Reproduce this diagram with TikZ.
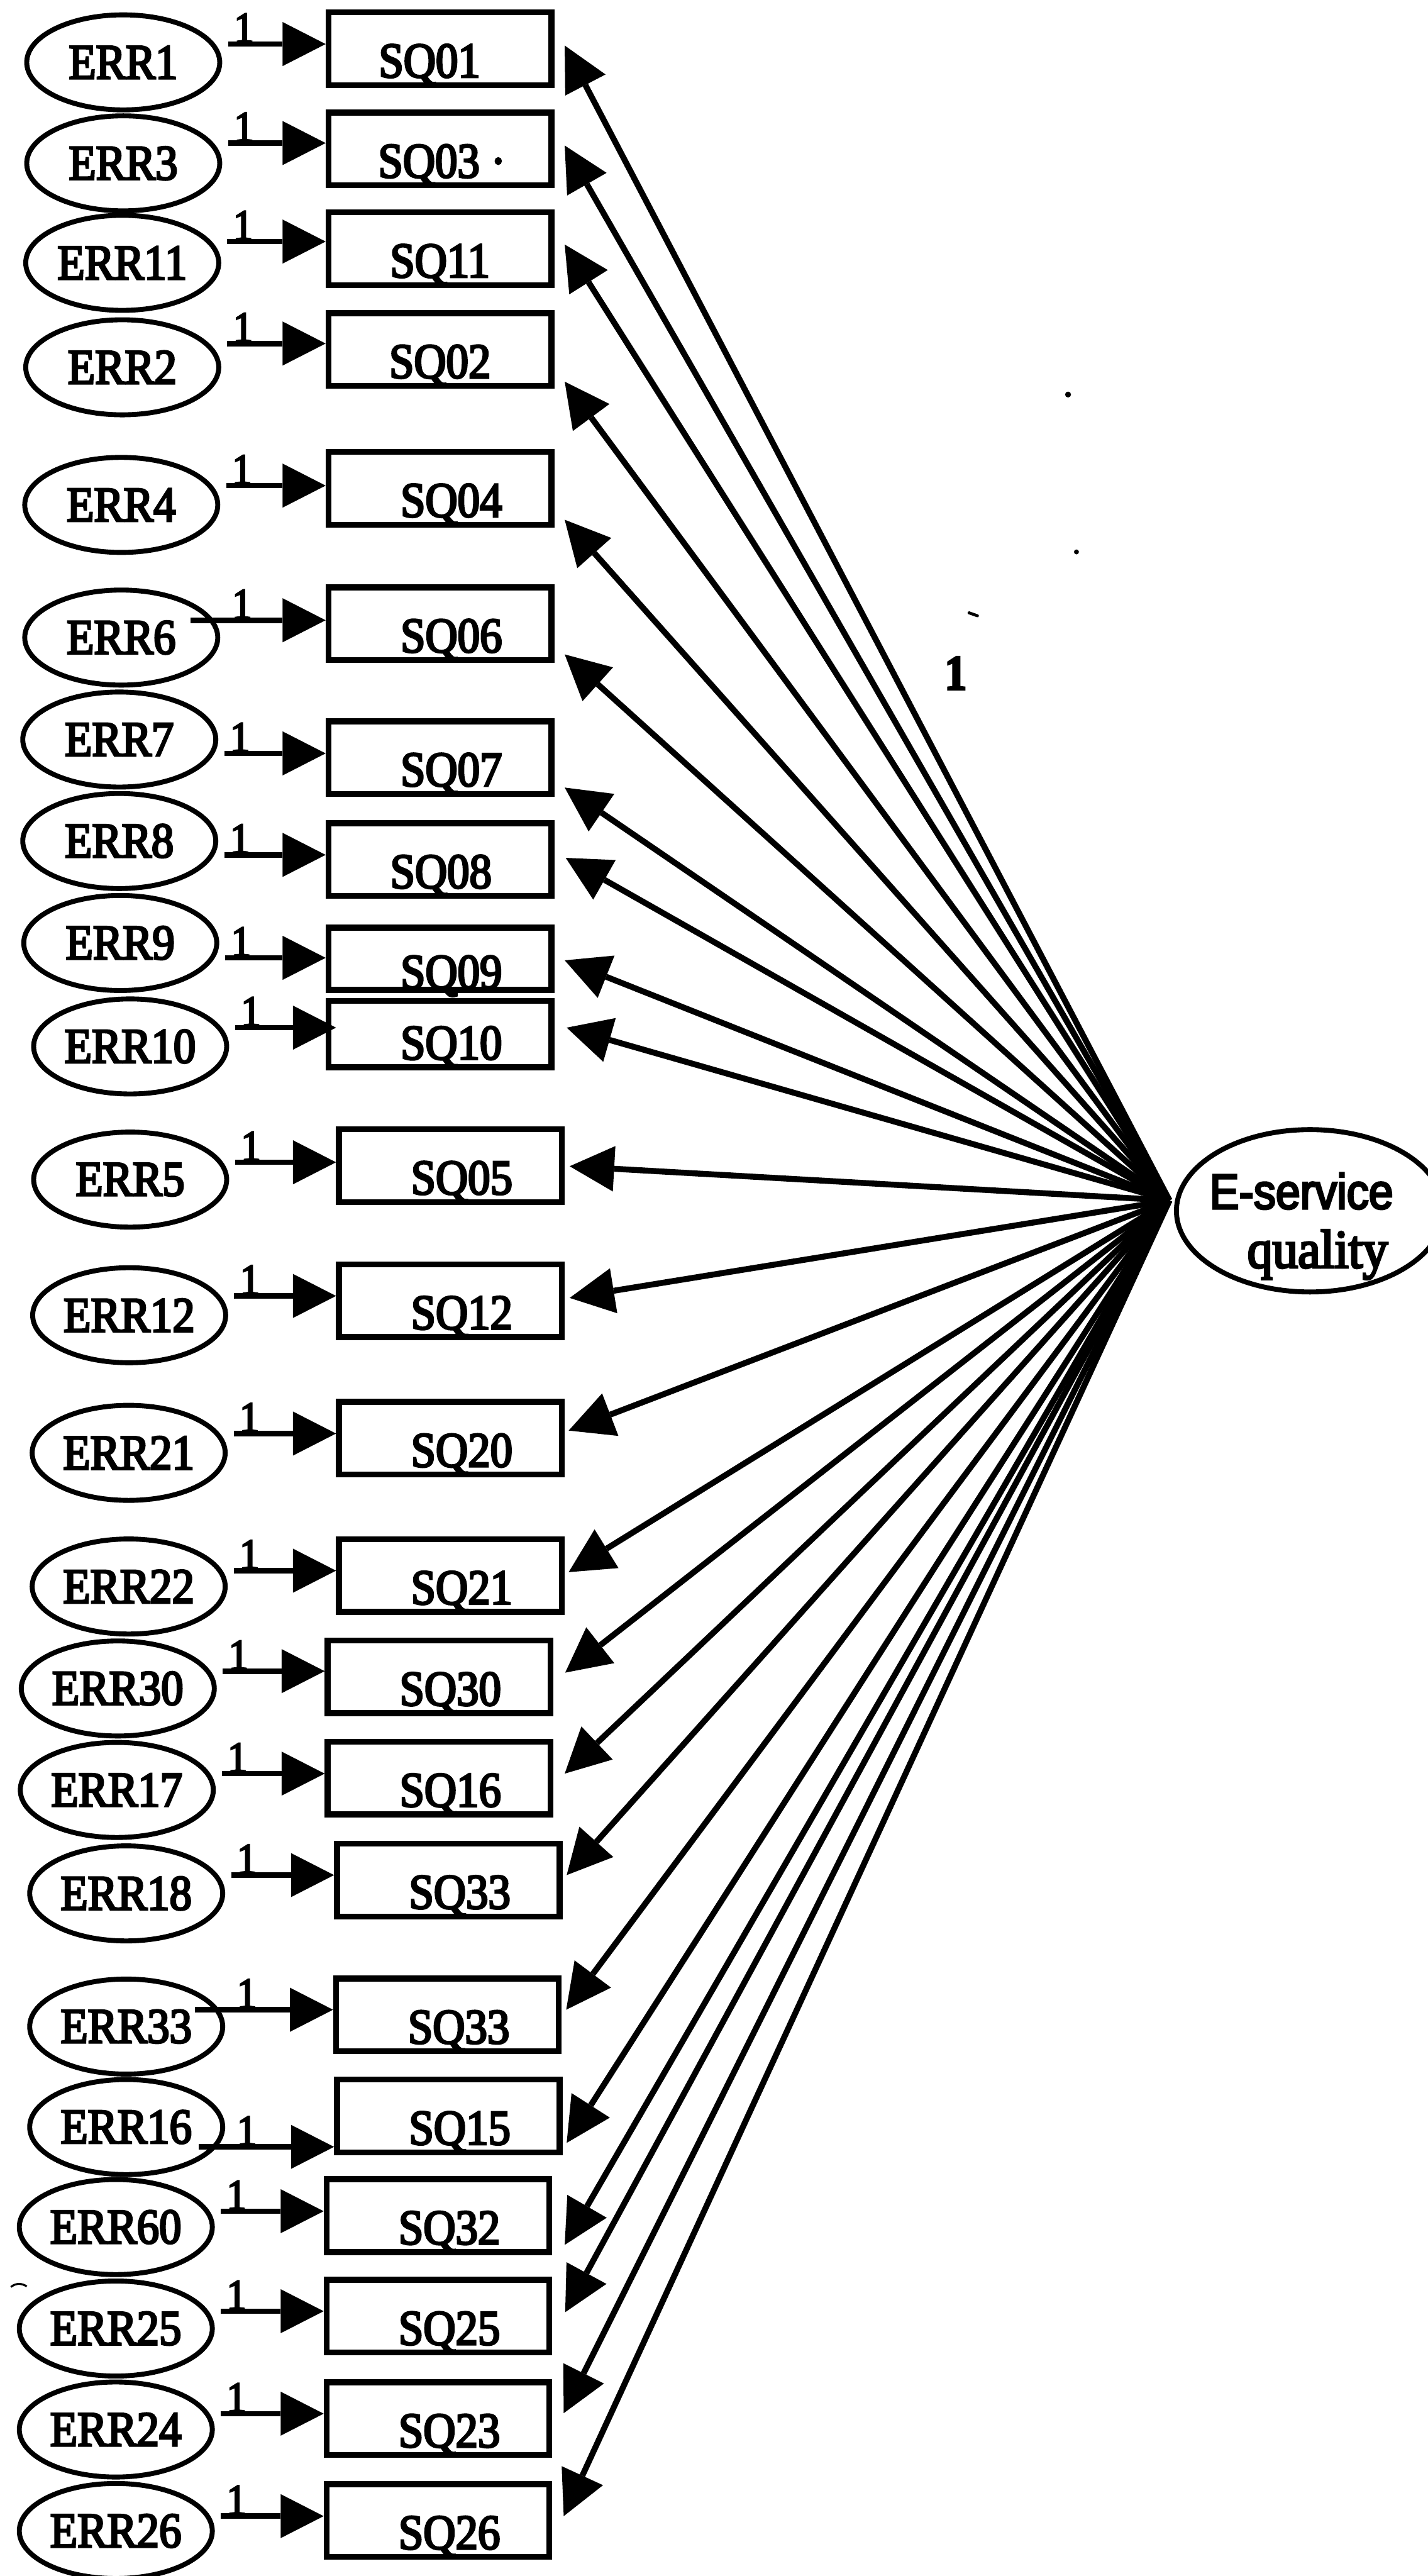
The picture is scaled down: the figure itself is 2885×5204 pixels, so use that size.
\documentclass[tikz,border=0pt]{standalone}
\usepackage{fontspec}
\usetikzlibrary{arrows.meta,calc,shapes.geometric}
\newfontfamily\errfont[FakeStretch=0.9,FakeBold=4]{Liberation Serif}
\newfontfamily\factorfont[FakeStretch=0.89,FakeBold=4]{Liberation Sans}
\newfontfamily\factorserif[FakeStretch=0.93,FakeBold=4]{Liberation Serif}

\tikzset{
  errnode/.style={ellipse, draw, line width=10pt, minimum width=390pt, minimum height=192pt,
    inner sep=0pt, font=\errfont\fontsize{100pt}{100pt}\selectfont},
  sqbox/.style={rectangle, draw, line width=12pt, minimum width=450pt, inner sep=0pt,
    text height=131pt, text depth=16pt, font=\errfont\fontsize{100pt}{100pt}\selectfont,
    execute at begin node={\hspace*{#1}}},
  sqbox/.default=46pt,
  onearrow/.style={line width=11pt, -{Triangle[length=87pt,width=89pt,line width=0pt]}},
  onelabel/.style={anchor=south, inner sep=0pt, yshift=3pt,
    font=\errfont\fontsize{88pt}{88pt}\selectfont},
  fanarrow/.style={line width=12pt, -{Triangle[length=90pt,width=92pt,line width=0pt]}},
  factor/.style={ellipse, draw, line width=10pt, minimum width=540pt, minimum height=328pt, inner sep=0pt},
}

\begin{document}
\begin{tikzpicture}[x=1pt,y=-1pt]
\fill[white] (0,0) rectangle (2885,5204);
\useasboundingbox (0,0) rectangle (2885,5204);

% error terms
\node[errnode] (e1)  at (249,126)  {ERR1};
\node[errnode] (e2)  at (249,330)  {ERR3};
\node[errnode] (e3)  at (247,531)  {ERR11};
\node[errnode] (e4)  at (247,742)  {ERR2};
\node[errnode] (e5)  at (245,1020) {ERR4};
\node[errnode] (e6)  at (245,1288) {ERR6};
\node[errnode] (e7)  at (241,1494) {ERR7};
\node[errnode] (e8)  at (241,1699) {ERR8};
\node[errnode] (e9)  at (243,1905) {ERR9};
\node[errnode] (e10) at (263,2114) {ERR10};
\node[errnode] (e11) at (263,2383) {ERR5};
\node[errnode] (e12) at (261,2657) {ERR12};
\node[errnode] (e13) at (260,2935) {ERR21};
\node[errnode] (e14) at (260,3205) {ERR22};
\node[errnode] (e15) at (238,3411) {ERR30};
\node[errnode] (e16) at (236,3616) {ERR17};
\node[errnode] (e17) at (255,3825) {ERR18};
\node[errnode] (e18) at (255,4094) {ERR33};
\node[errnode] (e19) at (255,4297) {ERR16};
\node[errnode] (e20) at (234,4499) {ERR60};
\node[errnode] (e21) at (234,4704) {ERR25};
\node[errnode] (e22) at (234,4908) {ERR24};
\node[errnode] (e23) at (234,5113) {ERR26};

% observed items
\node[sqbox=-42pt] (b1)  at (889,98.5)  {SQ01};
\node[sqbox=8pt]   (b2)  at (889,301)   {SQ03 ·};
\node[sqbox=0pt]   (b3)  at (889,502.5) {SQ11};
\node[sqbox=0pt]   (b4)  at (889,706)   {SQ02};
\node[sqbox]       (b5)  at (889,986.5) {SQ04};
\node[sqbox]       (b6)  at (889,1260)  {SQ06};
\node[sqbox]       (b7)  at (889,1530.5){SQ07};
\node[sqbox=4pt]   (b8)  at (889,1736.5){SQ08};
\node[sqbox, text height=123pt, text depth=3pt]  (b9)  at (889,1937) {SQ09};
\node[sqbox, text height=118pt, text depth=16pt] (b10) at (889,2089) {SQ10};
\node[sqbox]       (b11) at (910,2355)  {SQ05};
\node[sqbox]       (b12) at (910,2627.5){SQ12};
\node[sqbox]       (b13) at (910,2905.5){SQ20};
\node[sqbox]       (b14) at (910,3183)  {SQ21};
\node[sqbox]       (b15) at (887,3387.5){SQ30};
\node[sqbox]       (b16) at (887,3592)  {SQ16};
\node[sqbox]       (b17) at (906,3798)  {SQ33};
\node[sqbox]       (b18) at (904,4070.5){SQ33};
\node[sqbox]       (b19) at (906,4274.5){SQ15};
\node[sqbox]       (b20) at (885,4476)  {SQ32};
\node[sqbox]       (b21) at (885,4679)  {SQ25};
\node[sqbox]       (b22) at (885,4886)  {SQ23};
\node[sqbox]       (b23) at (885,5092)  {SQ26};

% latent factor
\node[factor] (E) at (2647,2446) {};
\node[anchor=base west, inner sep=0pt, font=\factorfont\fontsize{100pt}{100pt}\selectfont]
  (Eline1) at (2444,2442) {E-service};
\node[anchor=base west, inner sep=0pt, font=\factorserif\fontsize{110pt}{110pt}\selectfont]
  (Eline2) at (2520,2561) {quality};
\coordinate (hub) at ($(E.west)+(-9,-21)$);

% error -> item paths, fixed to 1
\foreach \i/\sx/\dy in {1/12/-37, 2/12/-41, 3/12/-43, 4/12/-48, 5/12/-39, 6/-60/-35,
    7/12/28, 8/12/28, 9/12/30, 11/12/-35, 12/12/-39, 13/12/-39, 14/12/-32,
    15/12/-35, 16/12/-33, 17/12/-37, 18/-61/-34, 19/-53/40, 20/12/-32,
    21/12/-35, 22/12/-32, 23/12/-30} {
  \draw[onearrow] ($(e\i.east)+(\sx,\dy)$) coordinate (s\i) -- (s\i -| b\i.west);
  \node[onelabel] (l\i) at ($(e\i.east)+(44,\dy)$) {1};
}
\draw[onearrow] ($(e10.east)+(12,-38)$) coordinate (s10) -- ($(s10 -| b10.west)+(21,0)$);
\node[onelabel] (l10) at ($(e10.east)+(44,-38)$) {1};

% factor loadings
\foreach \i/\dx/\dy in {1/21/-6.5, 2/21/-7, 3/21/-8.5, 4/21/65, 5/21/63.5, 6/21/62,
    7/21/60.5, 8/23/-3.5, 9/21/3, 10/25/-13, 11/10/1, 12/10/-5.5, 13/8/-15.5,
    14/8/-7, 15/24/-8.5, 16/23/-9, 17/8/-10, 18/9/-10.5, 19/8/54.5, 20/25/59,
    21/26/-8, 22/23/-11, 23/23/-9} {
  \draw[fanarrow] (hub) -- ($(b\i.east)+(\dx,\dy)$);
}

% fixed loading label
\node[inner sep=0pt, font=\errfont\fontsize{100pt}{100pt}\selectfont\bfseries] (fixone) at (1931,1360) {1};

% stray marks
\fill (2158,797) circle (6pt);
\fill (2175,1115) circle (5pt);
\draw[line width=6pt, line cap=round] (1958,1238) -- (1975,1244);
\draw[line width=4pt] (22,4620) .. controls (32,4612) and (44,4612) .. (54,4619);
\end{tikzpicture}
\end{document}
